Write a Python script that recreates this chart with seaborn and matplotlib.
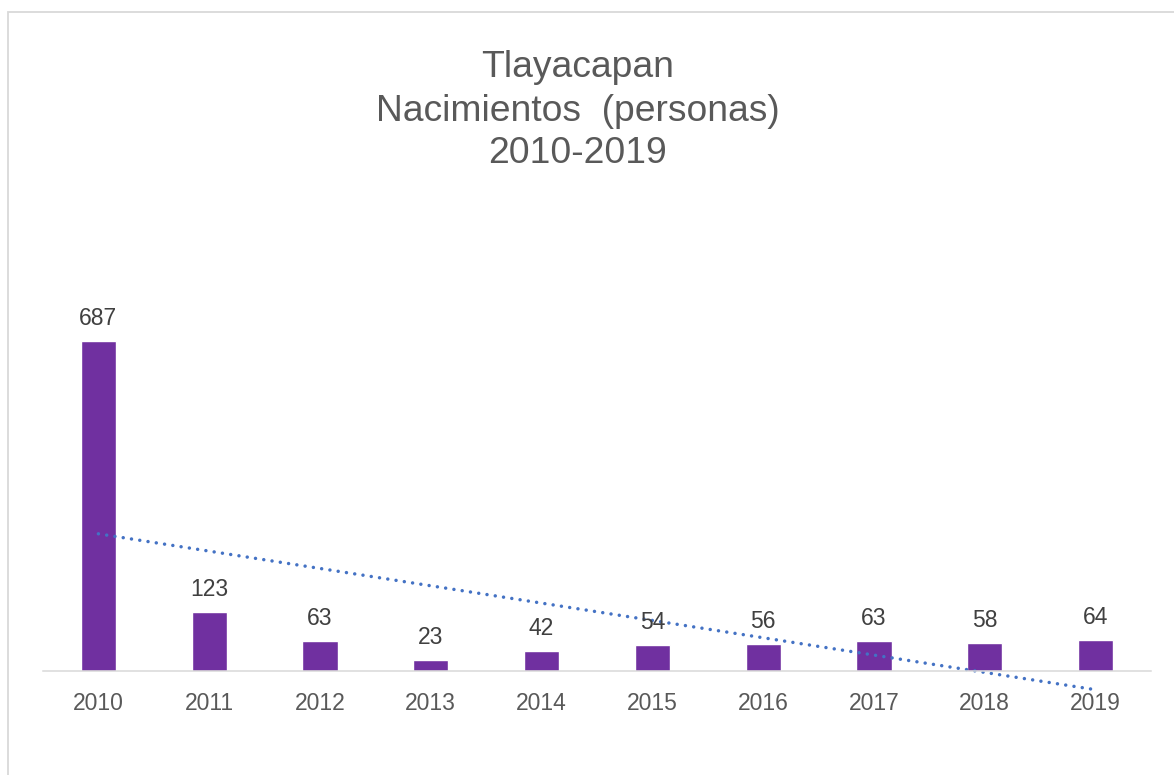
import matplotlib
matplotlib.use("Agg")
import matplotlib.pyplot as plt
import seaborn as sns
import numpy as np
import pandas as pd
from matplotlib.patches import Rectangle

years = ["2010", "2011", "2012", "2013", "2014", "2015", "2016", "2017", "2018", "2019"]
births = [687, 123, 63, 23, 42, 54, 56, 63, 58, 64]
title_lines = ["Tlayacapan", "Nacimientos  (personas)", "2010-2019"]

sns.set_theme(style="white")
plt.rcParams['font.family'] = ['Liberation Sans', 'DejaVu Sans']

W, H = 1174, 775
fig = plt.figure(figsize=(W / 100, H / 100), dpi=100)
ax = fig.add_axes([43 / W, (H - 671) / H, (1151 - 43) / W, 384.3 / H])

df = pd.DataFrame({"year": years, "births": births, "pos": np.arange(len(years))})

sns.barplot(data=df, x="year", y="births", color="#7030A0", saturation=1,
            width=0.316, ax=ax, errorbar=None)

sns.regplot(data=df, x="pos", y="births", scatter=False, ci=None, truncate=True,
            ax=ax, color="#4472C4",
            line_kws=dict(lw=2.5, linestyle=(0, (0.01, 2.4)), dash_capstyle="round"))
for ln in ax.lines:
    ln.set_clip_on(False)

ax.set_xlim(-0.5, len(years) - 0.5)
ax.set_ylim(0, 800)
ax.set_xlabel("")
ax.set_ylabel("")
ax.set_yticks([])
ax.set_xticks(range(len(years)))
ax.set_xticklabels(years)
ax.tick_params(axis="x", length=0, pad=15, labelsize=16.5, labelcolor="#595959")
for s in ["top", "right", "left"]:
    ax.spines[s].set_visible(False)
ax.spines["bottom"].set_color("#d9d9d9")
ax.spines["bottom"].set_linewidth(1.1)
ax.patch.set_alpha(0)

for i, v in enumerate(births):
    ax.annotate(str(v), xy=(i, v), xytext=(0, 11.5), textcoords="offset points",
                ha="center", va="baseline", fontsize=16.5, color="#404040")

baselines = [77, 121, 163]
for line, b in zip(title_lines, baselines):
    fig.text(578 / W, 1 - b / H, line, ha="center", va="baseline",
             fontsize=26.8, color="#595959")

fig.patches.append(Rectangle((7.5 / W, -0.1), 2, 1.1 - 12.5 / H,
                             transform=fig.transFigure, fill=False,
                             edgecolor="#d9d9d9", linewidth=1.3))

fig.savefig("out.png", dpi=100)
